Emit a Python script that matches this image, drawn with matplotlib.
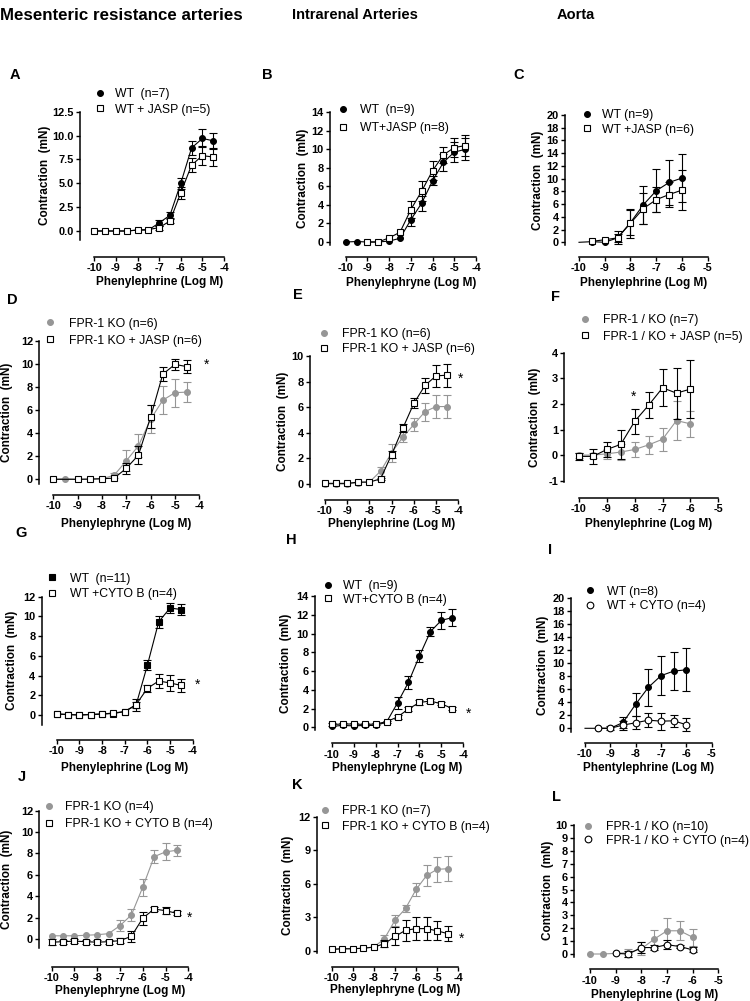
import numpy as np
import matplotlib.pyplot as plt
from matplotlib.lines import Line2D
from matplotlib.transforms import blended_transform_factory as blend

plt.rcParams['font.family'] = ['Liberation Sans', 'DejaVu Sans']
plt.rcParams['axes.unicode_minus'] = False

W, H = 750, 1001
GRAY = '#969696'

# phenylephrine concentration (log M)
conc = [-10, -9.5, -9, -8.5, -8, -7.5, -7, -6.5, -6, -5.5, -5, -4.5]
conc_aorta = [-10, -9.5, -9, -8.5, -8, -7.5, -7, -6.5, -6]

# A - mesenteric, WT vs WT + JASP
a_wt = [0, 0, 0, 0, 0.1, 0.1, 0.85, 1.65, 5.0, 8.7, 9.7, 9.45]
a_wt_err = [0, 0, 0, 0, 0, 0, 0.3, 0.3, 0.6, 0.75, 0.95, 0.85]
a_jasp = [0, 0, 0, 0, 0.1, 0.15, 0.35, 1.05, 4.0, 6.9, 7.9, 7.75]
a_jasp_err = [0, 0, 0, 0, 0, 0, 0.2, 0.2, 0.6, 0.7, 1.0, 0.95]

# B - intrarenal, WT vs WT + JASP
b_wt = [0, 0.05, 0, 0, 0.1, 0.4, 2.4, 4.2, 6.6, 8.6, 9.7, 10.0]
b_wt_err = [0, 0, 0, 0, 0, 0, 0.7, 0.8, 0.5, 0.9, 1.1, 1.2]
b_jasp_x = conc[2:]
b_jasp = [0, 0, 0.45, 1.05, 3.5, 5.5, 7.7, 9.4, 10.2, 10.4]
b_jasp_err = [0, 0, 0, 0, 0.9, 1.1, 1.0, 0.9, 1.0, 1.1]

# C - aorta, WT vs WT + JASP
c_wt = [0, 0.1, 0, 0.7, 3.1, 5.9, 8.1, 9.4, 10.1]
c_wt_err = [0, 0, 0, 0.6, 2.0, 3.0, 3.4, 3.5, 3.8]
c_jasp_x = conc_aorta[1:]
c_jasp = [0.15, 0.4, 0.7, 3.0, 5.3, 6.7, 7.5, 8.2]
c_jasp_err = [0, 0, 1.0, 2.3, 2.5, 2.0, 2.0, 3.1]

# D - mesenteric, FPR-1 KO vs KO + JASP
d_ko = [0, 0.05, 0, 0, 0.05, 0.35, 1.6, 2.9, 5.2, 6.85, 7.5, 7.55]
d_ko_err = [0, 0, 0, 0, 0, 0.2, 0.9, 1.0, 1.2, 1.2, 1.2, 0.85]
d_jasp_x = [-10, -9, -8.5, -8, -7.5, -7, -6.5, -6, -5.5, -5, -4.5]
d_jasp = [0, 0, 0.02, 0.05, 0.1, 0.95, 2.1, 5.4, 9.1, 9.95, 9.75]
d_jasp_err = [0, 0, 0, 0, 0, 0.5, 0.8, 1.0, 0.6, 0.5, 0.55]

# E - intrarenal, FPR-1 KO vs KO + JASP
e_ko = [0, 0, 0, 0.1, 0.15, 1.0, 2.45, 3.65, 4.65, 5.65, 6.05, 6.05]
e_ko_err = [0, 0, 0, 0, 0, 0.35, 0.7, 0.4, 0.5, 0.7, 0.9, 0.9]
e_jasp = [0.05, 0.05, 0.05, 0.15, 0.15, 0.4, 2.3, 4.35, 6.3, 7.7, 8.45, 8.5]
e_jasp_err = [0, 0, 0, 0, 0, 0.1, 0.3, 0.3, 0.4, 0.6, 0.85, 0.9]

# F - aorta, FPR-1 KO vs KO + JASP
f_ko = [0, 0, 0.05, 0.12, 0.22, 0.4, 0.62, 1.35, 1.22]
f_ko_err = [0.1, 0.1, 0.2, 0.3, 0.3, 0.35, 0.45, 0.75, 0.5]
f_jasp = [-0.05, -0.05, 0.22, 0.42, 1.32, 1.95, 2.63, 2.42, 2.58]
f_jasp_err = [0.15, 0.3, 0.3, 0.57, 0.5, 0.5, 0.73, 1.0, 1.15]

# G - mesenteric, WT vs WT + CYTO B
g_wt = [0.1, 0.05, 0, 0.05, 0.1, 0.15, 0.35, 1.0, 5.05, 9.45, 10.85, 10.7]
g_wt_err = [0, 0, 0, 0, 0, 0, 0, 0.3, 0.5, 0.6, 0.5, 0.6]
g_cyto = [0.1, 0.05, 0, 0.05, 0.1, 0.2, 0.35, 1.05, 2.7, 3.45, 3.25, 3.0]
g_cyto_err = [0, 0, 0, 0, 0, 0, 0, 0.6, 0.35, 0.7, 0.8, 0.7]

# H - intrarenal, WT vs WT + CYTO B
h_wt = [0.1, 0.2, 0.15, 0.2, 0.2, 0.55, 2.6, 4.8, 7.6, 10.2, 11.4, 11.7]
h_wt_err = [0, 0, 0, 0, 0, 0, 0.6, 0.7, 0.6, 0.5, 0.9, 0.9]
h_cyto = [0.3, 0.35, 0.35, 0.3, 0.35, 0.6, 1.1, 1.95, 2.65, 2.8, 2.5, 2.0]
h_cyto_err = [0.15, 0.15, 0.15, 0.15, 0.15, 0.1, 0.2, 0.2, 0.25, 0.2, 0.15, 0.15]

# I - aorta, WT vs WT + CYTO
i_wt = [0, 0, 0, 0.9, 3.7, 6.3, 8.1, 8.8, 9.0]
i_wt_err = [0, 0, 0, 0.8, 1.8, 2.9, 3.0, 2.9, 3.3]
i_cyto_x = conc_aorta[1:]
i_cyto = [0, 0, 0.5, 0.85, 1.25, 1.1, 1.15, 0.55]
i_cyto_err = [0, 0.3, 0.7, 1.0, 1.1, 1.3, 0.9, 1.0]

# J - mesenteric, FPR-1 KO vs KO + CYTO B
j_ko = [0.3, 0.3, 0.3, 0.35, 0.4, 0.5, 1.25, 2.25, 4.85, 7.7, 8.15, 8.3]
j_ko_err = [0, 0, 0, 0, 0, 0, 0.5, 0.6, 0.8, 0.6, 0.8, 0.5]
j_cyto = [-0.3, -0.25, -0.2, -0.25, -0.3, -0.25, -0.15, 0.25, 1.95, 2.8, 2.65, 2.4]
j_cyto_err = [0.3, 0.2, 0.2, 0.2, 0.2, 0.2, 0.2, 0.5, 0.6, 0.2, 0.3, 0.2]

# K - intrarenal, FPR-1 KO vs KO + CYTO B
k_ko = [0.15, 0.2, 0.2, 0.25, 0.35, 1.1, 2.75, 3.8, 5.5, 6.75, 7.3, 7.35]
k_ko_err = [0, 0, 0, 0, 0, 0.3, 0.5, 0.3, 0.6, 0.9, 1.1, 1.1]
k_cyto = [0.15, 0.2, 0.2, 0.25, 0.35, 0.65, 1.3, 1.85, 2.0, 2.0, 1.8, 1.55]
k_cyto_err = [0, 0, 0, 0, 0, 0.3, 0.8, 0.95, 1.0, 1.0, 0.85, 0.7]

# L - aorta, FPR-1 KO vs KO + CYTO
l_ko = [0, 0, 0.05, 0.1, 0.4, 1.15, 1.8, 1.8, 1.3]
l_ko_err = [0, 0, 0, 0.3, 0.5, 0.7, 1.0, 0.75, 0.65]
l_cyto_x = conc_aorta[2:]
l_cyto = [0.05, 0.0, 0.5, 0.5, 0.72, 0.58, 0.32]
l_cyto_err = [0, 0.2, 0.4, 0.2, 0.35, 0.1, 0.2]

STYLE = {
    'black_circle': dict(marker='o', ms=4.2, mfc='black', mec='black', color='black'),
    'open_square': dict(marker='s', ms=4.8, mfc='white', mec='black', color='black'),
    'gray_circle': dict(marker='o', ms=4.2, mfc=GRAY, mec=GRAY, color=GRAY),
    'black_square': dict(marker='s', ms=4.8, mfc='black', mec='black', color='black'),
    'open_circle': dict(marker='o', ms=4.8, mfc='white', mec='black', color='black'),
}

fig = plt.figure(figsize=(W / 100, H / 100), dpi=100)


def fx(px):
    return px / W


def fy(py):
    return 1 - py / H


def panel(letter, letter_xy, lay, xmax, yticks, yfmt, series, labels, leg,
          xlabel, xlabel_y, ylabel_x, star=None):
    yax, xm10, xmax_px, ytop_px, ytop, y0_px, xsp, ylo_sp = lay
    ax = fig.add_axes([fx(yax), fy(xsp), (xmax_px - yax) / W, (xsp - ytop_px) / H])
    ax.patch.set_alpha(0)
    ppx = (xmax_px - xm10) / (xmax + 10)
    ax.set_xlim(-10 - (xm10 - yax) / ppx, xmax)
    ppy = (y0_px - ytop_px) / ytop
    ax.set_ylim(-(xsp - y0_px) / ppy, ytop)

    handles = []
    for z, (x, y, e, sty, first) in enumerate(series):
        st = STYLE[sty]
        x, y, e = np.asarray(x), np.asarray(y), np.asarray(e)
        m = e > 0
        ax.errorbar(x[m], y[m], yerr=e[m], fmt='none', ecolor=st['color'],
                    elinewidth=0.8, capsize=2.6, capthick=0.8,
                    zorder=2 + 2 * z, clip_on=False)
        ax.plot(x, y, lw=0.8, mew=0.8, markevery=slice(first, None),
                zorder=3 + 2 * z, clip_on=False, **st)
        handles.append(Line2D([], [], ls='none', mew=0.8, **st))

    mx, tx, r1, r2 = leg
    fs = 8.8 * 100 / 72
    ax.legend(handles, labels, loc='center left',
              bbox_to_anchor=(fx(mx - fs / 2), fy((r1 + r2) / 2)),
              bbox_transform=fig.transFigure, frameon=False, fontsize=8.8,
              borderpad=0, borderaxespad=0, handlelength=1.0,
              handletextpad=(tx - mx - fs / 2) / fs,
              labelspacing=max((r2 - r1 - 14) / fs, 0.05))

    for s in ('top', 'right'):
        ax.spines[s].set_visible(False)
    ax.spines['left'].set_bounds(ylo_sp, ytop)
    ax.spines['bottom'].set_bounds(-10, xmax)
    for s in ('left', 'bottom'):
        ax.spines[s].set_linewidth(1.1)
    xt = list(range(-10, xmax + 1))
    ax.set_xticks(xt)
    ax.set_xticklabels([str(v) for v in xt])
    ax.set_yticks(yticks)
    ax.set_yticklabels([yfmt.format(v) for v in yticks])
    ax.tick_params(length=3, width=1.0, pad=1.5, labelsize=7.9)
    for t in ax.get_xticklabels() + ax.get_yticklabels():
        t.set_fontweight('bold')

    ax.set_xlabel(xlabel, fontsize=8.5, fontweight='bold', va='center')
    ax.xaxis.set_label_coords((xmax - 10) / 2, fy(xlabel_y),
                              transform=blend(ax.transData, fig.transFigure))
    ax.set_ylabel('Contraction  (mN)', fontsize=8.5, fontweight='bold', va='center')
    ax.yaxis.set_label_coords(fx(ylabel_x), (ylo_sp + ytop) / 2,
                              transform=blend(fig.transFigure, ax.transData))

    fig.text(fx(letter_xy[0]), fy(letter_xy[1]), letter, fontsize=10.5,
             fontweight='bold', ha='left', va='center')
    if star:
        fig.text(fx(star[0]), fy(star[1] + 2), '*', fontsize=10, ha='center', va='center')
    return ax


# column titles
fig.text(fx(0), fy(15), 'Mesenteric resistance arteries', fontsize=12.2,
         fontweight='bold', ha='left', va='center')
fig.text(fx(355), fy(15), 'Intrarenal Arteries', fontsize=10.5,
         fontweight='bold', ha='center', va='center')
fig.text(fx(576), fy(15), 'Aorta', fontsize=10.5, fontweight='bold',
         ha='center', va='center')

panel('A', (10, 75), (80, 94.3, 224, 111.7, 12.5, 231, 256.7, -0.9), -4,
      [0, 2.5, 5, 7.5, 10, 12.5], '{:.1f}',
      [(conc, a_wt, a_wt_err, 'black_circle', 0),
       (conc, a_jasp, a_jasp_err, 'open_square', 0)],
      ['WT  (n=7)', 'WT + JASP (n=5)'], (100, 115, 93.3, 110.7),
      'Phenylephrine (Log M)', 282, 45)

panel('B', (262, 75), (330, 345.7, 476, 112.3, 14, 242, 256.7, -0.3), -4,
      list(range(0, 15, 2)), '{:d}',
      [(conc, b_wt, b_wt_err, 'black_circle', 0),
       (b_jasp_x, b_jasp, b_jasp_err, 'open_square', 0)],
      ['WT  (n=9)', 'WT+JASP (n=8)'], (343.3, 360, 109.3, 129),
      'Phenylephryne (Log M)', 283, 303)

panel('C', (513, 75), (565, 579, 707.7, 115, 20, 242.3, 256.7, -0.5), -5,
      list(range(0, 21, 2)), '{:d}',
      [(conc_aorta, c_wt, c_wt_err, 'black_circle', 1),
       (c_jasp_x, c_jasp, c_jasp_err, 'open_square', 0)],
      ['WT (n=9)', 'WT +JASP (n=6)'], (587.3, 601.7, 114, 130.7),
      'Phenylephrine (Log M)', 283, 538)

panel('D', (7, 300), (39.3, 53.3, 199.3, 340.7, 12, 479.3, 495, -0.4), -4,
      list(range(0, 13, 2)), '{:d}',
      [(conc, d_ko, d_ko_err, 'gray_circle', 0),
       (d_jasp_x, d_jasp, d_jasp_err, 'open_square', 0)],
      ['FPR-1 KO (n=6)', 'FPR-1 KO + JASP (n=6)'], (50, 69.3, 322.7, 341.7),
      'Phenylephryne (Log M)', 524, 7, star=(207, 362.7))

panel('E', (293, 295), (310, 325, 458.3, 356, 10, 484, 500, -0.2), -4,
      list(range(0, 11, 2)), '{:d}',
      [(conc, e_ko, e_ko_err, 'gray_circle', 0),
       (conc, e_jasp, e_jasp_err, 'open_square', 0)],
      ['FPR-1 KO (n=6)', 'FPR-1 KO + JASP (n=6)'], (324, 341.7, 333.3, 350),
      'Phenylephrine (Log M)', 524, 283, star=(460.7, 376.7))

panel('F', (551, 297), (564.3, 579, 718.3, 352.7, 4, 455.1, 498, -1.05), -5,
      list(range(-1, 5)), '{:d}',
      [(conc_aorta, f_ko, f_ko_err, 'gray_circle', 0),
       (conc_aorta, f_jasp, f_jasp_err, 'open_square', 0)],
      ['FPR-1 / KO (n=7)', 'FPR-1 / KO + JASP (n=5)'], (585, 603.3, 319.3, 337.7),
      'Phenylephrine (Log M)', 524, 535, star=(633.3, 395))

panel('G', (15, 533), (41.7, 56.7, 192.7, 596.7, 12, 715, 740, -1.0), -4,
      list(range(0, 13, 2)), '{:d}',
      [(conc, g_wt, g_wt_err, 'black_square', 0),
       (conc, g_cyto, g_cyto_err, 'open_square', 0)],
      ['WT  (n=11)', 'WT +CYTO B (n=4)'], (51.7, 70, 577.7, 595),
      'Phenylephrine (Log M)', 768, 12, star=(197.3, 682.7))

panel('H', (286, 540), (315, 331.7, 463.3, 596, 14, 727.3, 743.3, -0.3), -4,
      list(range(0, 15, 2)), '{:d}',
      [(conc, h_wt, h_wt_err, 'black_circle', 0),
       (conc, h_cyto, h_cyto_err, 'open_square', 0)],
      ['WT  (n=9)', 'WT+CYTO B (n=4)'], (327.7, 343.3, 585, 600.7),
      'Phenylephryne (Log M)', 768, 286, star=(468.3, 711.7))

panel('I', (548, 550), (570.7, 585, 711.7, 598.3, 20, 728.3, 742.7, -0.5), -5,
      list(range(0, 21, 2)), '{:d}',
      [(conc_aorta, i_wt, i_wt_err, 'black_circle', 1),
       (i_cyto_x, i_cyto, i_cyto_err, 'open_circle', 0)],
      ['WT (n=8)', 'WT + CYTO (n=4)'], (590, 606.7, 590.7, 607.3),
      'Phentylephrine (Log M)', 768, 543)

panel('J', (18, 777), (39.3, 51.7, 188.3, 810.7, 12, 939, 966.7, -0.87), -4,
      list(range(0, 13, 2)), '{:d}',
      [(conc, j_ko, j_ko_err, 'gray_circle', 0),
       (conc, j_cyto, j_cyto_err, 'open_square', 0)],
      ['FPR-1 KO (n=4)', 'FPR-1 KO + CYTO B (n=4)'], (49.3, 65, 806, 825),
      'Phenylephryne (Log M)', 991, 7, star=(190, 916))

panel('K', (292, 785), (316.7, 331.7, 458.3, 816.7, 12, 951, 966.7, -0.2), -4,
      [0, 3, 6, 9, 12], '{:d}',
      [(conc, k_ko, k_ko_err, 'gray_circle', 0),
       (conc, k_cyto, k_cyto_err, 'open_square', 0)],
      ['FPR-1 KO (n=7)', 'FPR-1 KO + CYTO B (n=4)'], (325, 341.7, 810, 827.7),
      'Phenylephryne (Log M)', 990, 288, star=(461.7, 936.7))

panel('L', (552, 797), (574, 590, 718.3, 825, 10, 954, 969.3, -0.2), -5,
      list(range(0, 11)), '{:d}',
      [(conc_aorta, l_ko, l_ko_err, 'gray_circle', 0),
       (l_cyto_x, l_cyto, l_cyto_err, 'open_circle', 0)],
      ['FPR-1 / KO (n=10)', 'FPR-1 / KO + CYTO (n=4)'], (588.3, 606, 826, 841.7),
      'Phenylephrine (Log M)', 995, 548)

fig.savefig('out.png', dpi=100)
